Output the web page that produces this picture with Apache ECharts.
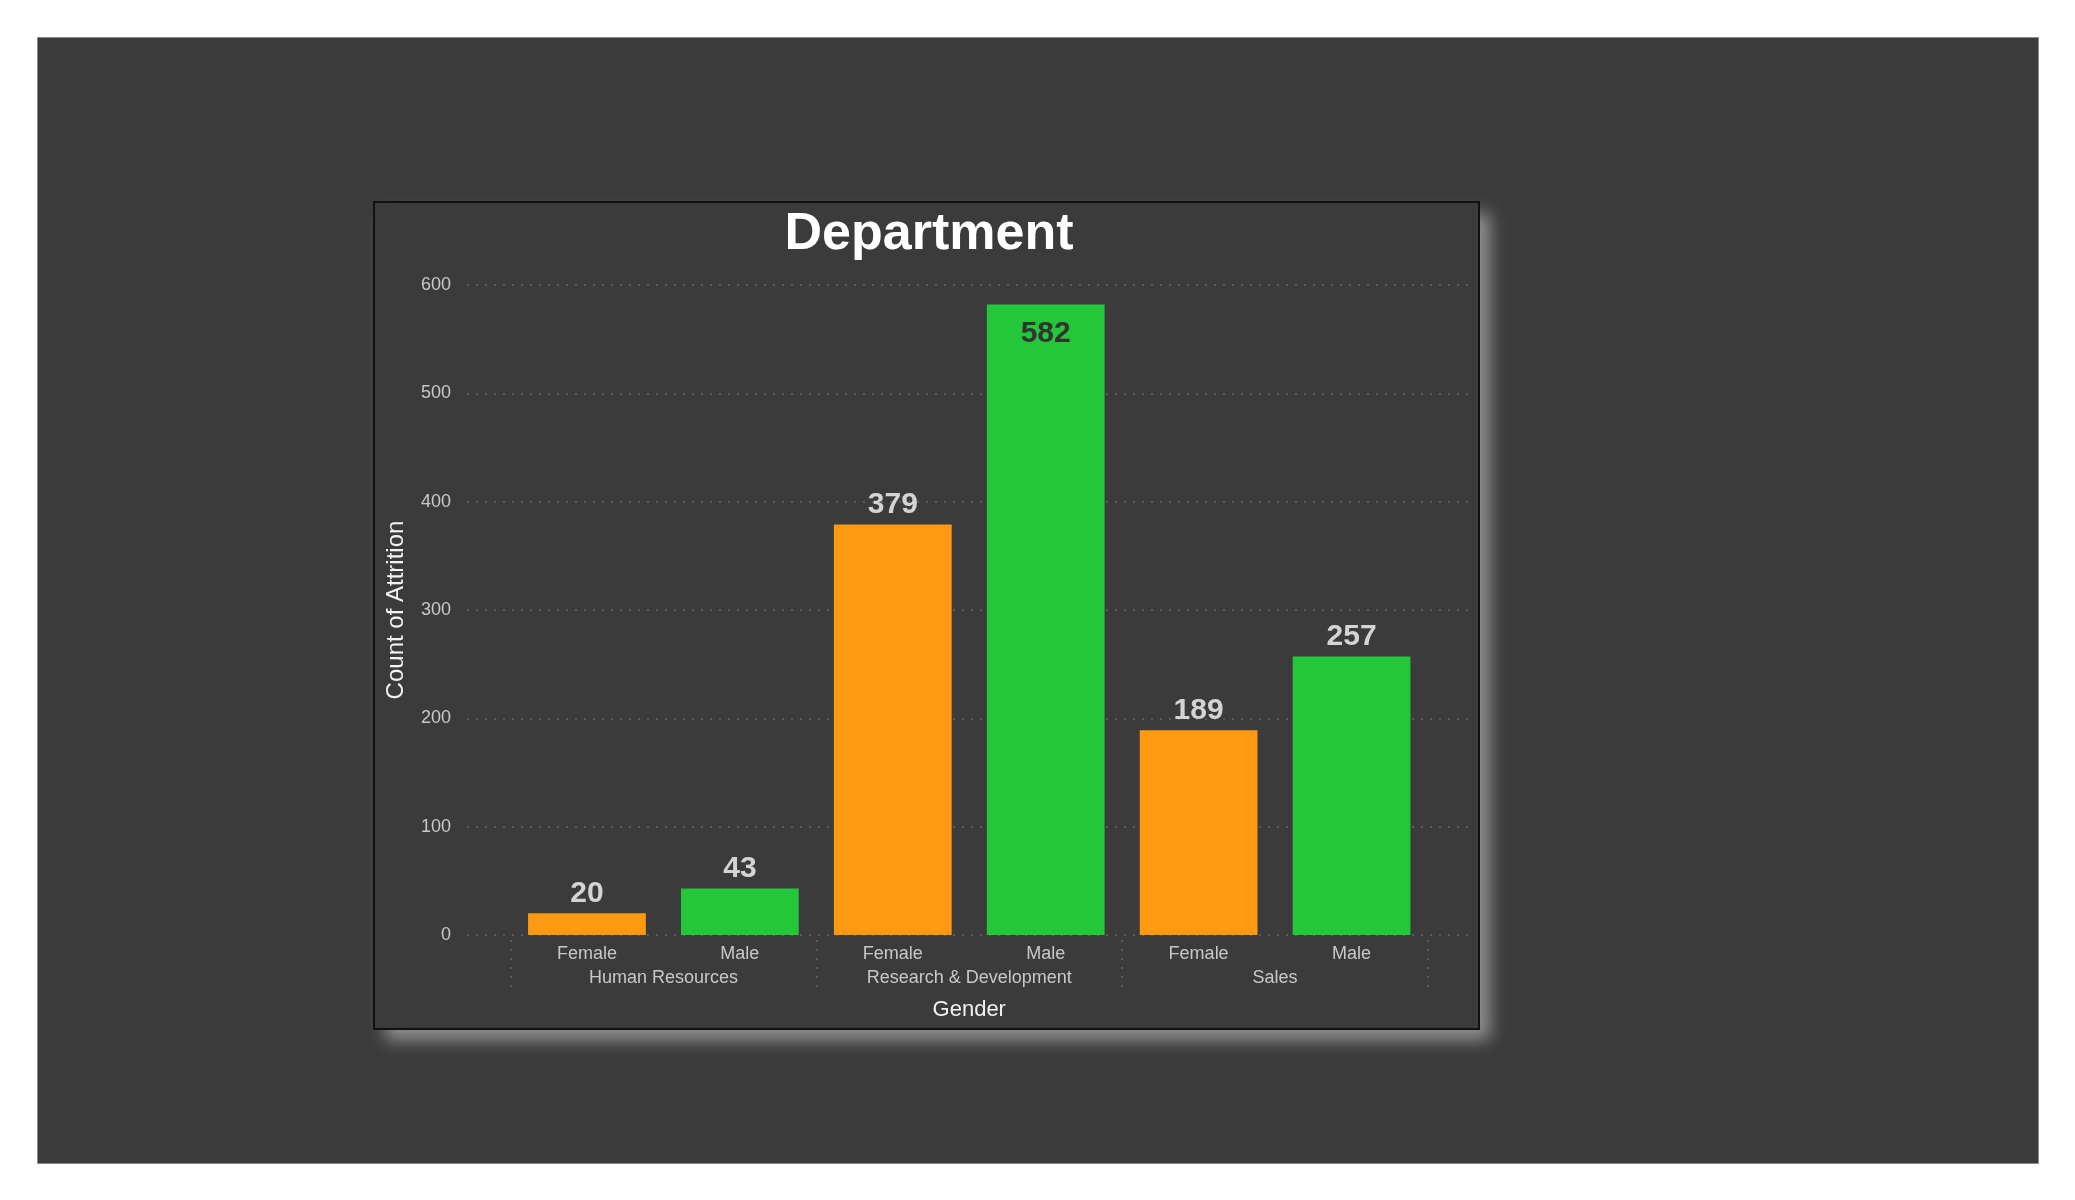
<!DOCTYPE html>
<html>
<head>
<meta charset="utf-8">
<title>Department</title>
<script src="https://cdn.jsdelivr.net/npm/echarts@6/dist/echarts.min.js"></script>
<style>
  html, body { margin: 0; padding: 0; background: #ffffff; }
  #main { width: 2075px; height: 1200px; }
</style>
</head>
<body>
<div id="main"></div>
<script>
// data
var genders = ['Female', 'Male', 'Female', 'Male', 'Female', 'Male'];
var departments = ['Human Resources', 'Research & Development', 'Sales'];
var attrition = [20, 43, 379, 582, 189, 257];
var yTicks = [0, 100, 200, 300, 400, 500, 600];

(function() {
  var font = 'Liberation Sans, Arial, Helvetica, sans-serif';
  var orange = '#fd9a11';
  var green = '#24c63a';
  var dots = '#676767';
  var muted = '#c8c8c8';

  var yMin = yTicks[0];
  var yMax = yTicks[yTicks.length - 1];
  var yStep = yTicks[1] - yTicks[0];

  var barData = attrition.map(function(v, i) {
    var inside = v > yMax * 0.93; // no room above the bar: label goes inside
    return {
      value: v,
      itemStyle: { color: genders[i] === 'Female' ? orange : green },
      label: inside ? { position: 'insideTop', distance: 14, color: '#333333' } : {}
    };
  });

  // panel: shadowed fill first, then the border on its own so the border casts no shadow inside
  var panel = { x: 374, y: 202, width: 1105, height: 827 };

  var chart = echarts.init(document.getElementById('main'), null, { renderer: 'canvas' });
  chart.setOption({
    animation: false,
    backgroundColor: '#ffffff',
    textStyle: { fontFamily: font },
    graphic: [
      {
        type: 'rect', z: -20, silent: true,
        shape: { x: 37.5, y: 37.5, width: 2001, height: 1126 },
        style: { fill: '#3b3b3b', stroke: '#8a8a8a', lineWidth: 1 }
      },
      {
        type: 'rect', z: -19, silent: true,
        shape: panel,
        style: {
          fill: '#3b3b3b',
          shadowBlur: 16, shadowColor: 'rgba(160,160,160,0.85)',
          shadowOffsetX: 11, shadowOffsetY: 11
        }
      },
      {
        type: 'rect', z: -18, silent: true,
        shape: panel,
        style: { fill: null, stroke: '#111111', lineWidth: 2 }
      }
    ],
    title: {
      text: 'Department',
      left: 929,
      top: 209,
      padding: 0,
      textAlign: 'center',
      textStyle: { color: '#ffffff', fontSize: 52, fontWeight: 'bold', fontFamily: font }
    },
    grid: [
      { left: 467, right: 604, top: 285, bottom: 265 },
      { left: 510.5, right: 647, top: 285, bottom: 265 }
    ],
    xAxis: [
      { type: 'value', gridIndex: 0, show: false, min: 0, max: 1 },
      {
        type: 'category', gridIndex: 1, data: genders,
        axisLine: { show: false },
        axisTick: { show: false },
        axisLabel: { color: muted, fontSize: 18, margin: 10, interval: 0 }
      },
      {
        type: 'category', gridIndex: 1, data: departments, position: 'bottom', offset: 5,
        axisLine: { show: false },
        axisTick: { show: true, interval: 0, length: 48, lineStyle: { color: dots, width: 1.5, type: [2, 7] } },
        axisLabel: { color: muted, fontSize: 18, margin: 29, interval: 0 },
        name: 'Gender',
        nameLocation: 'middle',
        nameGap: 59,
        nameTextStyle: { color: '#f2f2f2', fontSize: 22 }
      }
    ],
    yAxis: [
      {
        type: 'value', gridIndex: 0, min: yMin, max: yMax, interval: yStep,
        axisLine: { show: false },
        axisTick: { show: false },
        axisLabel: { color: muted, fontSize: 18, margin: 16 },
        splitLine: { lineStyle: { color: dots, width: 1.5, type: [2, 7] } },
        name: 'Count of Attrition',
        nameLocation: 'middle',
        nameGap: 59,
        nameTextStyle: { color: '#f2f2f2', fontSize: 24 }
      },
      {
        type: 'value', gridIndex: 1, min: yMin, max: yMax, interval: yStep, show: false
      }
    ],
    series: [{
      type: 'bar',
      xAxisIndex: 1,
      yAxisIndex: 1,
      data: barData,
      barCategoryGap: '23%',
      label: {
        show: true,
        position: 'top',
        distance: 5,
        color: '#d4d4d4',
        fontSize: 30,
        fontWeight: 'bold',
        fontFamily: font
      }
    }]
  });
  window.addEventListener('resize', function() { chart.resize(); });
})();
</script>
</body>
</html>
